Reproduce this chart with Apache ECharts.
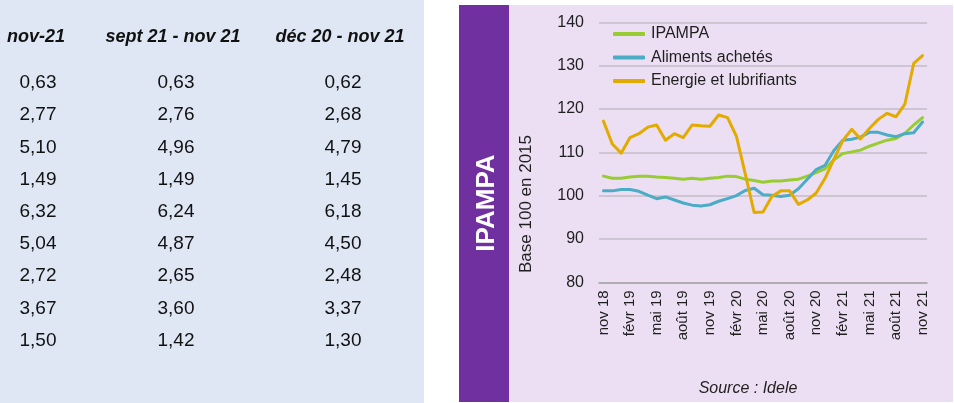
<!DOCTYPE html>
<html>
<head>
<meta charset="utf-8">
<script src="https://cdn.jsdelivr.net/npm/echarts@6/dist/echarts.min.js"></script>
<style>
  html, body { margin: 0; padding: 0; background: #fff; }
  #chart { width: 954px; height: 403px; }
</style>
</head>
<body>
<div id="chart"></div>
<script>
// table on the left
const tableHeaders = ['nov-21', 'sept 21 - nov 21', 'déc 20 - nov 21']
const colNov21 = [0.63, 2.77, 5.10, 1.49, 6.32, 5.04, 2.72, 3.67, 1.50]
const colSeptNov = [0.63, 2.76, 4.96, 1.49, 6.24, 4.87, 2.65, 3.60, 1.42]
const colDecNov = [0.62, 2.68, 4.79, 1.45, 6.18, 4.50, 2.48, 3.37, 1.30]

// chart
const months = ['nov 18', 'déc 18', 'janv 19', 'févr 19', 'mars 19', 'avr 19', 'mai 19', 'juin 19', 'juil 19', 'août 19', 'sept 19', 'oct 19',
  'nov 19', 'déc 19', 'janv 20', 'févr 20', 'mars 20', 'avr 20', 'mai 20', 'juin 20', 'juil 20', 'août 20', 'sept 20', 'oct 20',
  'nov 20', 'déc 20', 'janv 21', 'févr 21', 'mars 21', 'avr 21', 'mai 21', 'juin 21', 'juil 21', 'août 21', 'sept 21', 'oct 21', 'nov 21']
const ipampa = [104.5, 104.0, 104.0, 104.3, 104.5, 104.5, 104.3, 104.2, 104.0, 103.8, 104.0, 103.8,
  104.0, 104.2, 104.5, 104.4, 103.8, 103.5, 103.1, 103.4, 103.4, 103.6, 103.8, 104.5,
  105.3, 106.2, 108.3, 109.7, 110.1, 110.5, 111.4, 112.1, 112.8, 113.2, 114.4, 116.3, 118.0]
const aliments = [101.1, 101.1, 101.4, 101.4, 101.0, 100.1, 99.3, 99.7, 99.0, 98.3, 97.8, 97.6,
  97.9, 98.7, 99.3, 100.0, 101.2, 101.7, 100.2, 100.1, 99.8, 100.1, 101.6, 103.8,
  106.0, 107.0, 110.4, 112.8, 113.0, 113.5, 114.6, 114.6, 114.0, 113.6, 114.3, 114.5, 117.0]
const energie = [117.2, 111.9, 109.8, 113.4, 114.3, 115.8, 116.3, 112.8, 114.3, 113.4, 116.3, 116.1,
  116.0, 118.6, 118.0, 113.7, 105.0, 96.1, 96.2, 99.8, 101.1, 101.1, 98.0, 99.0,
  100.6, 104.0, 108.4, 112.7, 115.3, 113.1, 115.5, 117.6, 119.0, 118.2, 121.1, 130.5, 132.3]

const FONT = 'Liberation Sans'
const TEXT = '#1f1f1f'

const chart = echarts.init(document.getElementById('chart'))

const fmt = v => v.toFixed(2).replace('.', ',')

// table layout
const headerX = [36, 173, 340]
const cellX = [38, 176, 343]
const rowTop = 83
const rowStep = 32.2

const graphic = [
  { type: 'rect', z: -10, shape: { x: 0, y: 0, width: 424, height: 403 }, style: { fill: '#dfe7f4' } },
  { type: 'rect', z: -10, shape: { x: 459, y: 5, width: 50, height: 397 }, style: { fill: '#7030a0' } },
  { type: 'rect', z: -10, shape: { x: 509, y: 5, width: 444, height: 397 }, style: { fill: '#ecdff3' } },
  {
    type: 'text', x: 487, y: 203, rotation: Math.PI / 2,
    style: { text: 'IPAMPA', fill: '#fff', font: `bold 26px "${FONT}"`, textAlign: 'center', textVerticalAlign: 'middle' }
  },
  {
    type: 'text', x: 526, y: 204, rotation: Math.PI / 2,
    style: { text: 'Base 100 en 2015', fill: TEXT, font: `17px "${FONT}"`, textAlign: 'center', textVerticalAlign: 'middle' }
  },
  {
    type: 'text', x: 748, y: 389,
    style: { text: 'Source : Idele', fill: TEXT, font: `italic 16px "${FONT}"`, textAlign: 'center', textVerticalAlign: 'middle' }
  }
]

tableHeaders.forEach((h, c) => {
  graphic.push({
    type: 'text', x: headerX[c], y: 37,
    style: { text: h, fill: '#111', font: `italic bold 18px "${FONT}"`, textAlign: 'center', textVerticalAlign: 'middle' }
  })
})
;[colNov21, colSeptNov, colDecNov].forEach((col, c) => {
  col.forEach((v, r) => {
    graphic.push({
      type: 'text', x: cellX[c], y: rowTop + r * rowStep,
      style: { text: fmt(v), fill: '#111', font: `19px "${FONT}"`, textAlign: 'center', textVerticalAlign: 'middle' }
    })
  })
})

function lineSeries(name, data, color) {
  return {
    name,
    type: 'line',
    data,
    symbol: 'none',
    lineStyle: { width: 3, color, cap: 'round', join: 'round' },
    itemStyle: { color }
  }
}

chart.setOption({
  animation: false,
  textStyle: { fontFamily: FONT },
  graphic,
  legend: {
    orient: 'vertical',
    left: 613,
    top: 26,
    padding: 0,
    icon: 'roundRect',
    itemWidth: 32,
    itemHeight: 4,
    itemGap: 7.5,
    textStyle: { color: TEXT, fontSize: 16, lineHeight: 16, fontFamily: FONT, padding: [0, 0, 0, 1] },
    data: ['IPAMPA', 'Aliments achetés', 'Energie et lubrifiants']
  },
  grid: { left: 599, right: 27, top: 22.3, bottom: 120.7 },
  xAxis: {
    type: 'category',
    data: months,
    boundaryGap: true,
    axisLine: { lineStyle: { color: '#a6a6a6', width: 1.5 } },
    axisTick: { interval: 2, length: 5, lineStyle: { color: '#a6a6a6', width: 1.5 } },
    axisLabel: { interval: 2, rotate: 90, color: TEXT, fontSize: 15, fontFamily: FONT, margin: 8 },
    splitLine: { show: false }
  },
  yAxis: {
    type: 'value',
    min: 80,
    max: 140,
    interval: 10,
    axisLine: { show: false },
    axisTick: { show: false },
    axisLabel: { color: TEXT, fontSize: 16, fontFamily: FONT, margin: 15 },
    splitLine: { lineStyle: { color: '#c4bcc8', width: 1.5 } }
  },
  series: [
    lineSeries('IPAMPA', ipampa, '#99cc33'),
    lineSeries('Aliments achetés', aliments, '#4bacc6'),
    lineSeries('Energie et lubrifiants', energie, '#e3ab00')
  ]
})
</script>
</body>
</html>
